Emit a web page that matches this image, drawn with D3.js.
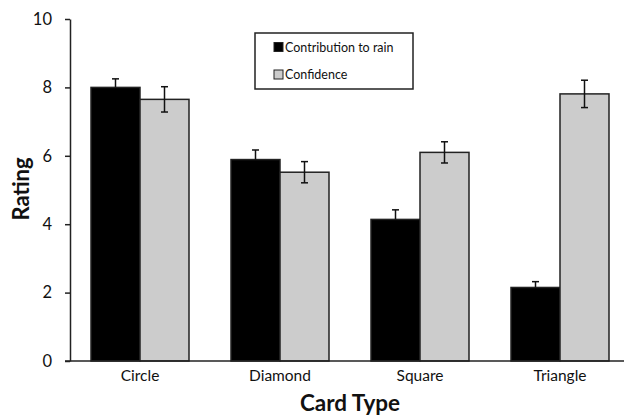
<!DOCTYPE html>
<html><head><meta charset="utf-8">
<script src="https://cdn.jsdelivr.net/npm/d3@7/dist/d3.min.js"></script>
<style>body{margin:0;background:#fff}svg{display:block}</style>
</head><body>
<svg id="c" width="624" height="416"></svg>
<script>
const categories = ["Circle","Diamond","Square","Triangle"];
const seriesNames = ["Contribution to rain","Confidence"];
const contribution = [8.0, 5.89, 4.14, 2.15];
const contributionErr = [0.25, 0.28, 0.28, 0.17];
const confidence = [7.65, 5.52, 6.10, 7.81];
const confidenceErr = [0.37, 0.31, 0.31, 0.40];
const yTicks = [0,2,4,6,8,10];

const svg = d3.select("#c");
const font = "Lato, 'Liberation Sans', Arial, sans-serif";
const y = d3.scaleLinear().domain([0,10]).range([361,19]);
const x = d3.scaleBand().domain(categories).range([70,630]).paddingInner(0.3).paddingOuter(0.15);
const xs = d3.scaleBand().domain(seriesNames).range([0,x.bandwidth()]);
const fills = ["#000000","#cccccc"];

const data = [];
categories.forEach((c,i)=>{
  data.push({c, k:0, s:seriesNames[0], v:contribution[i], e:contributionErr[i]});
  data.push({c, k:1, s:seriesNames[1], v:confidence[i], e:confidenceErr[i]});
});

// bars
svg.append("g").selectAll("rect").data(data).join("rect")
  .attr("x", d=>x(d.c)+xs(d.s))
  .attr("y", d=>y(d.v))
  .attr("width", xs.bandwidth())
  .attr("height", d=>y(0)-y(d.v))
  .attr("fill", d=>fills[d.k])
  .attr("stroke","#222").attr("stroke-width",1.5);

// error bars
const eg = svg.append("g").attr("stroke","#111").attr("stroke-width",1.5);
data.forEach(d=>{
  const cx = x(d.c)+xs(d.s)+xs.bandwidth()/2;
  const lo = d.k===0 ? d.v : d.v-d.e;
  eg.append("line").attr("x1",cx).attr("x2",cx).attr("y1",y(d.v+d.e)).attr("y2",y(lo));
  eg.append("line").attr("x1",cx-3.5).attr("x2",cx+3.5).attr("y1",y(d.v+d.e)).attr("y2",y(d.v+d.e));
  if (d.k===1) eg.append("line").attr("x1",cx-3.5).attr("x2",cx+3.5).attr("y1",y(d.v-d.e)).attr("y2",y(d.v-d.e));
});

// y axis
const ya = svg.append("g").attr("transform","translate(70,0)")
  .call(d3.axisLeft(y).tickValues(yTicks).tickSize(5).tickPadding(13).tickSizeOuter(0));
ya.select(".domain").attr("stroke","#222").attr("stroke-width",1.5);
ya.selectAll(".tick line").attr("stroke","#222").attr("stroke-width",1.5);
ya.selectAll("text").attr("font-family",font).attr("font-size",16.5).attr("fill","#111");

// x axis line
svg.append("line").attr("x1",65).attr("x2",624).attr("y1",y(0)).attr("y2",y(0))
  .attr("stroke","#222").attr("stroke-width",1.5);
svg.append("g").selectAll("text").data(categories).join("text")
  .attr("x", d=>x(d)+x.bandwidth()/2).attr("y",381)
  .attr("text-anchor","middle").attr("font-family",font).attr("font-size",15.5).attr("fill","#111")
  .text(d=>d);

// axis titles
svg.append("text").attr("x",350).attr("y",411).attr("text-anchor","middle")
  .attr("font-family",font).attr("font-size",22.5).attr("font-weight","bold").attr("fill","#111")
  .text("Card Type");
svg.append("text").attr("transform","translate(29,189) rotate(-90)").attr("text-anchor","middle")
  .attr("font-family",font).attr("font-size",22).attr("font-weight","bold").attr("fill","#111")
  .text("Rating");

// legend
const lg = svg.append("g");
lg.append("rect").attr("x",255).attr("y",33).attr("width",158).attr("height",56)
  .attr("fill","#fff").attr("stroke","#222").attr("stroke-width",1.5);
seriesNames.forEach((s,i)=>{
  const yy = 42.5 + i*27.5;
  lg.append("rect").attr("x",274).attr("y",yy).attr("width",9).attr("height",9)
    .attr("fill",fills[i]).attr("stroke","#222").attr("stroke-width",1);
  lg.append("text").attr("x",285).attr("y",yy+9).attr("font-family",font).attr("font-size",12.5).attr("fill","#111").text(s);
});
</script>
</body></html>
